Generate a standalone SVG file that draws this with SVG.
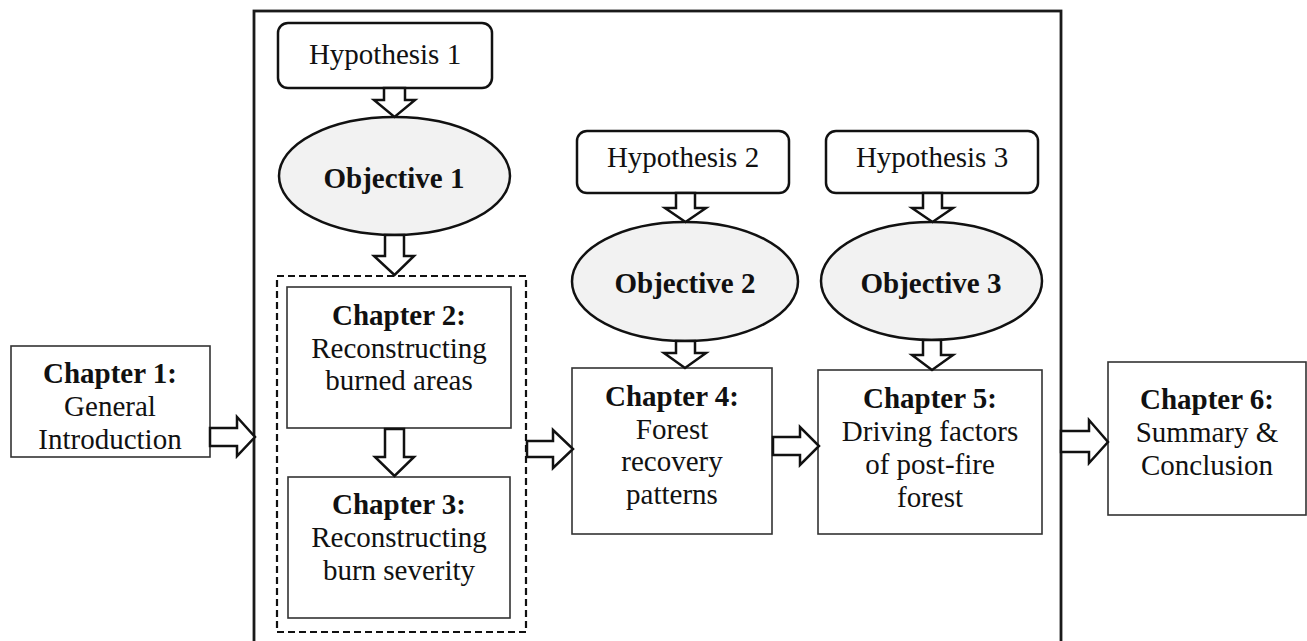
<svg xmlns="http://www.w3.org/2000/svg" width="1307" height="641" viewBox="0 0 1307 641">
<style>
  .t { font-family: "Liberation Serif", "Times New Roman", serif; font-size: 29px; fill: #111; text-anchor: middle; }
  .b { font-weight: bold; }
  .ch { fill: #fff; stroke: #333; stroke-width: 1.6; }
  .hyp { fill: #fff; stroke: #111; stroke-width: 2.5; }
  .obj { fill: #f2f2f2; stroke: #111; stroke-width: 2.5; }
  .arr { fill: #fff; stroke: #111; stroke-width: 2.5; stroke-linejoin: miter; }
  .outer { fill: none; stroke: #1a1a1a; stroke-width: 2.8; }
  .dash { fill: none; stroke: #111; stroke-width: 2.2; stroke-dasharray: 7 4; }
</style>
<rect x="0" y="0" width="1307" height="641" fill="#fff"/>
<g id="outer-frame">
  <rect class="outer" x="254" y="11" width="807" height="650"/>
</g>
<g id="chapter-group">
  <rect class="dash" x="277" y="276" width="249" height="356"/>
</g>
<g id="hypothesis1">
  <rect class="hyp" x="278" y="23" width="214" height="65" rx="10"/>
  <text class="t" x="385" y="64">Hypothesis 1</text>
</g>
<g id="objective1">
  <ellipse class="obj" cx="394.5" cy="176" rx="115.5" ry="59"/>
  <text class="t b" x="394" y="188">Objective 1</text>
</g>
<g id="hypothesis2">
  <rect class="hyp" x="577" y="131" width="212" height="62" rx="10"/>
  <text class="t" x="683" y="167">Hypothesis 2</text>
</g>
<g id="objective2">
  <ellipse class="obj" cx="685" cy="281.5" rx="113" ry="59.5"/>
  <text class="t b" x="685" y="293">Objective 2</text>
</g>
<g id="hypothesis3">
  <rect class="hyp" x="826" y="131" width="212" height="62" rx="10"/>
  <text class="t" x="932" y="167">Hypothesis 3</text>
</g>
<g id="objective3">
  <ellipse class="obj" cx="931.5" cy="281" rx="110.5" ry="59"/>
  <text class="t b" x="931" y="293">Objective 3</text>
</g>
<g id="chapter1">
  <rect class="ch" x="11" y="346" width="199" height="111"/>
  <text class="t" x="110" y="383"><tspan class="b">Chapter 1:</tspan><tspan x="110" dy="33">General</tspan><tspan x="110" dy="33">Introduction</tspan></text>
</g>
<g id="chapter2">
  <rect class="ch" x="287" y="287" width="224" height="141"/>
  <text class="t" x="399" y="325"><tspan class="b">Chapter 2:</tspan><tspan x="399" dy="32.5">Reconstructing</tspan><tspan x="399" dy="32.5">burned areas</tspan></text>
</g>
<g id="chapter3">
  <rect class="ch" x="288" y="477" width="222" height="141"/>
  <text class="t" x="399" y="514"><tspan class="b">Chapter 3:</tspan><tspan x="399" dy="33">Reconstructing</tspan><tspan x="399" dy="33">burn severity</tspan></text>
</g>
<g id="chapter4">
  <rect class="ch" x="572" y="368" width="200" height="166"/>
  <text class="t" x="672" y="406"><tspan class="b">Chapter 4:</tspan><tspan x="672" dy="32.5">Forest</tspan><tspan x="672" dy="32.5">recovery</tspan><tspan x="672" dy="32.5">patterns</tspan></text>
</g>
<g id="chapter5">
  <rect class="ch" x="818" y="370" width="224" height="164"/>
  <text class="t" x="930" y="408"><tspan class="b">Chapter 5:</tspan><tspan x="930" dy="33">Driving factors</tspan><tspan x="930" dy="33">of post-fire</tspan><tspan x="930" dy="33">forest</tspan></text>
</g>
<g id="chapter6">
  <rect class="ch" x="1108" y="362" width="198" height="153"/>
  <text class="t" x="1207" y="409"><tspan class="b">Chapter 6:</tspan><tspan x="1207" dy="33">Summary &amp;</tspan><tspan x="1207" dy="33">Conclusion</tspan></text>
</g>
<g id="connectors">
  <polygon class="arr" points="384,88 405,88 405,100 415,100 394.5,117 374,100 384,100"/>
  <polygon class="arr" points="385,235 404,235 404,256 414,256 394.5,275 374,256 385,256"/>
  <polygon class="arr" points="385,429 404,429 404,457 414,457 394.5,476 375,457 385,457"/>
  <polygon class="arr" points="676,193 695,193 695,208 706,208 685.5,222 665,208 676,208"/>
  <polygon class="arr" points="676,341 695,341 695,353 706,353 685,368 664,353 676,353"/>
  <polygon class="arr" points="923,193 942,193 942,208 953,208 932.5,222 912,208 923,208"/>
  <polygon class="arr" points="923,340 941,340 941,355 953,355 932,370 912,355 923,355"/>
  <polygon class="arr" points="210,428 237,428 237,417 255,437 237,456 237,446 210,446"/>
  <polygon class="arr" points="527,441 553,441 553,430 573,449 553,468 553,457 527,457"/>
  <polygon class="arr" points="773,437 800,437 800,427 819,446 800,465 800,455 773,455"/>
  <polygon class="arr" points="1061,431 1089,431 1089,420 1108,442 1089,463 1089,452 1061,452"/>
</g>
</svg>
